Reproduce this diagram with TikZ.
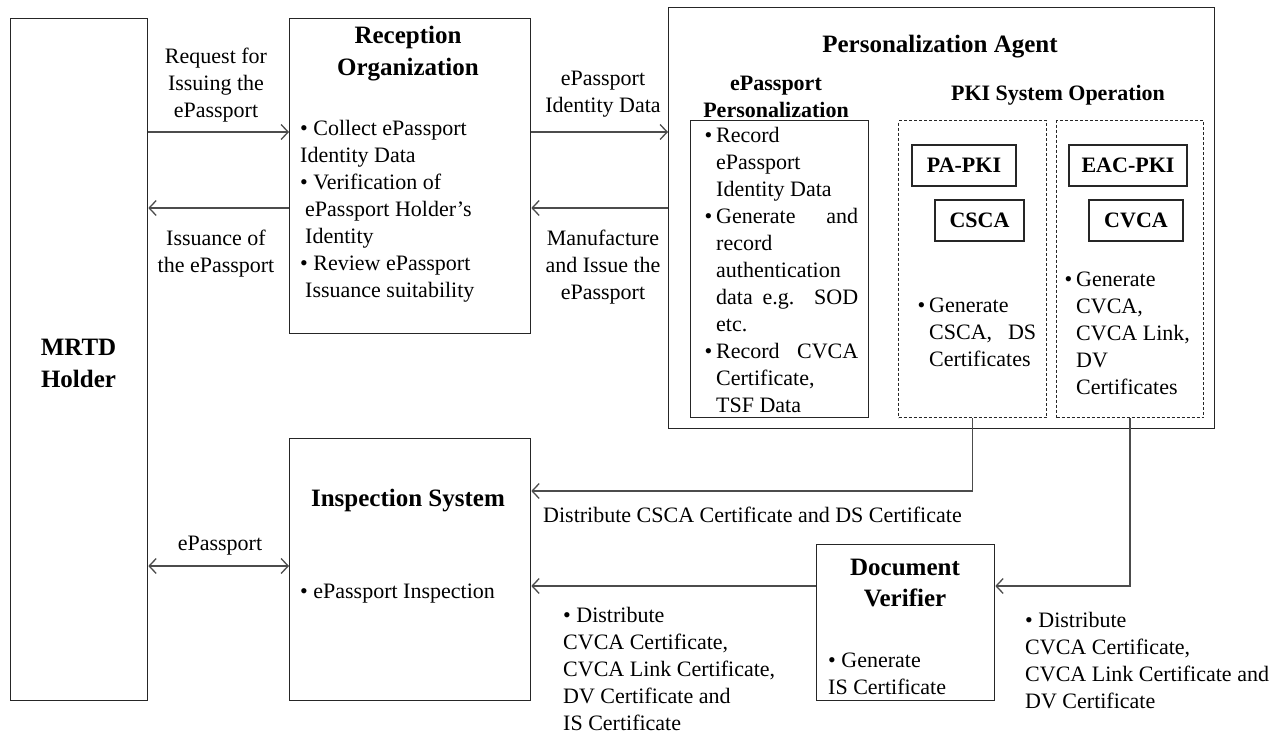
\documentclass[tikz,border=0pt]{standalone}
\usepackage{fontspec}
\setmainfont{Liberation Serif}
\usetikzlibrary{arrows.meta}

\begin{document}
\begin{tikzpicture}[x=1pt,y=-1pt,
  box/.style={draw=black!85,line width=1.3pt,inner sep=0pt},
  dbox/.style={draw=black!85,line width=1.1pt,dash pattern=on 3pt off 2pt,inner sep=0pt},
  conn/.style={draw=black!70,line width=1.3pt,-{Straight Barb[length=7pt,width=15pt]}},
  biconn/.style={draw=black!70,line width=1.3pt,{Straight Barb[length=7pt,width=15pt]}-{Straight Barb[length=7pt,width=15pt]}},
  txt/.style={inner sep=0pt,yshift=-2.5pt,font=\fontsize{22}{27}\selectfont},
  ttl/.style={inner sep=0pt,yshift=-2.5pt,align=center,font=\bfseries\fontsize{25}{32}\selectfont},
  sub/.style={inner sep=0pt,yshift=-2pt,align=center,font=\bfseries\fontsize{22}{27}\selectfont},
  pki/.style={box,font=\bfseries\fontsize{22}{27}\selectfont}
]
\useasboundingbox[fill=white] (0,0) rectangle (1287,735);

% main boxes
\node[box,anchor=north west,minimum width=137pt,minimum height=682pt] (mrtd) at (10,18) {};
\node[box,anchor=north west,minimum width=241pt,minimum height=315pt] (recep) at (289,18) {};
\node[box,anchor=north west,minimum width=546pt,minimum height=421pt] (pa) at (668,7) {};
\node[box,anchor=north west,minimum width=178pt,minimum height=297pt] (pers) at (690,120) {};
\node[dbox,anchor=north west,minimum width=148pt,minimum height=297pt] (pkia) at (898,120) {};
\node[dbox,anchor=north west,minimum width=147pt,minimum height=297pt] (pkib) at (1056,120) {};
\node[box,anchor=north west,minimum width=241pt,minimum height=262pt] (insp) at (289,438) {};
\node[box,anchor=north west,minimum width=178pt,minimum height=156pt] (dv) at (816,544) {};

% PKI sub-boxes
\node[pki,minimum width=104pt,minimum height=41pt] (papki) at (964,165.5) {PA-PKI};
\node[pki,minimum width=89pt,minimum height=41pt] (csca) at (979.5,220.5) {CSCA};
\node[pki,minimum width=118pt,minimum height=41pt] (eacpki) at (1128,165.5) {EAC-PKI};
\node[pki,minimum width=94pt,minimum height=41pt] (cvca) at (1136,220.5) {CVCA};

% titles
\node[ttl] (tmrtd) at (78.5,360.5) {MRTD\\Holder};
\node[ttl] (trecep) at (408,51) {Reception\\Organization};
\node[ttl] (tpa) at (940,44) {Personalization Agent};
\node[sub] (tpers) at (776,94.5) {ePassport\\Personalization};
\node[sub] (tpki) at (1058,93) {PKI System Operation};
\node[ttl] (tinsp) at (408,498) {Inspection System};
\node[ttl,font=\bfseries\fontsize{25}{31}\selectfont] (tdv) at (905,580.5) {Document\\Verifier};

% box contents
\node[txt,anchor=west,align=left] (lrecep) at (300,209)
  {• Collect ePassport\\Identity Data\\• Verification of\\\hspace*{5pt}ePassport Holder’s\\\hspace*{5pt}Identity\\• Review ePassport\\\hspace*{5pt}Issuance suitability};
\node[txt,anchor=west,align=left] (lpers) at (716,267)
  {\llap{•\hspace{4pt}}Record\\ePassport\\Identity Data\\\llap{•\hspace{4pt}}\makebox[142pt][s]{Generate and}\\record\\authentication\\\makebox[142pt][s]{data e.g. SOD}\\etc.\\\llap{•\hspace{4pt}}\makebox[142pt][s]{Record CVCA}\\Certificate,\\TSF Data};
\node[txt,anchor=west,align=left] (lpkia) at (929,330)
  {\llap{•\hspace{4pt}}Generate\\\makebox[107pt][s]{CSCA, DS}\\Certificates};
\node[txt,anchor=west,align=left] (lpkib) at (1076,331)
  {\llap{•\hspace{4pt}}Generate\\CVCA,\\CVCA Link,\\DV\\Certificates};
\node[txt,anchor=west] (linsp) at (300,591) {• ePassport Inspection};
\node[txt,anchor=west,align=left] (ldv) at (828,671) {• Generate\\IS Certificate};

% connectors
\coordinate (r1) at (0,132);
\coordinate (r2) at (0,208);
\coordinate (r3) at (0,566);
\coordinate (r4) at (0,491);
\coordinate (r5) at (0,586);
\draw[conn] (mrtd.east |- r1) -- (recep.west |- r1);
\draw[conn] (recep.west |- r2) -- (mrtd.east |- r2);
\draw[conn] (recep.east |- r1) -- (pa.west |- r1);
\draw[conn] (pa.west |- r2) -- (recep.east |- r2);
\draw[biconn] (mrtd.east |- r3) -- (insp.west |- r3);
\draw[conn] (pkia.south) |- (insp.east |- r4);
\draw[conn] (pkib.south) |- (dv.east |- r5);
\draw[conn] (dv.west |- r5) -- (insp.east |- r5);

% connector labels
\node[txt,align=center] (l1) at (216,83) {Request for\\Issuing the\\ePassport};
\node[txt,align=center] (l2) at (216,251.5) {Issuance of\\the ePassport};
\node[txt,align=center] (l3) at (603,92) {ePassport\\Identity Data};
\node[txt,align=center] (l4) at (603,265) {Manufacture\\and Issue the\\ePassport};
\node[txt,align=center] (l5) at (220,543) {ePassport};
\node[txt,anchor=west] (l6) at (543,512) {Distribute CSCA Certificate and DS Certificate};
\node[txt,anchor=west,align=left] (l7) at (563,666.5)
  {• Distribute\\CVCA Certificate,\\CVCA Link Certificate,\\DV Certificate and\\IS Certificate};
\node[txt,anchor=west,align=left] (l8) at (1025,658.5)
  {• Distribute\\CVCA Certificate,\\CVCA Link Certificate and\\DV Certificate};
\end{tikzpicture}
\end{document}
